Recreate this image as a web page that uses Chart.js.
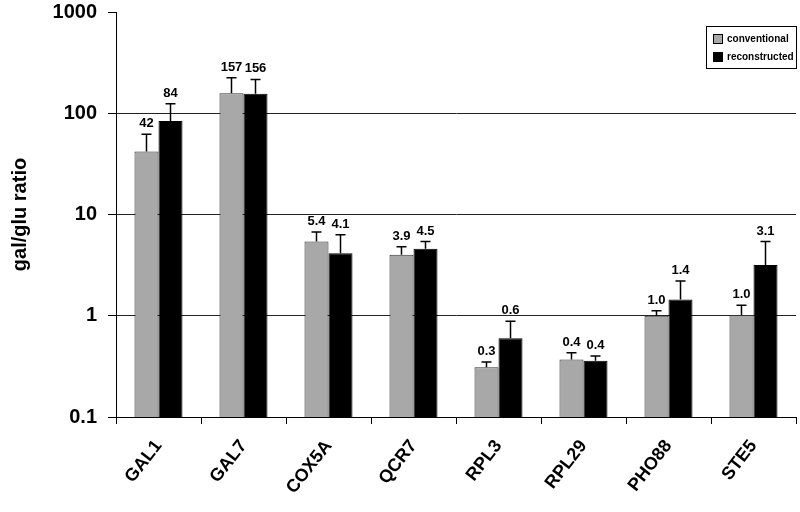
<!DOCTYPE html>
<html>
<head>
<meta charset="utf-8">
<script src="https://cdn.jsdelivr.net/npm/chart.js@4.4.0/dist/chart.umd.min.js"></script>
<style>
    html, body { margin: 0; padding: 0; background: #fff; }
    #wrap { width: 800px; height: 512px; }
</style>
</head>
<body>
<div id="wrap"><canvas id="graf"></canvas></div>
<script>
// Data ratio gal/glu
const genes = ['GAL1', 'GAL7', 'COX5A', 'QCR7', 'RPL3', 'RPL29', 'PHO88', 'STE5'];
const conventional = [42, 158, 5.4, 4.0, 0.31, 0.37, 1.0, 1.02];
const reconstructed = [84, 156, 4.15, 4.6, 0.6, 0.36, 1.45, 3.17];
// horni konec chybove usecky
const conventionalErr = [62, 224, 6.7, 4.8, 0.35, 0.43, 1.12, 1.27];
const reconstructedErr = [124, 216, 6.3, 5.4, 0.88, 0.40, 2.2, 5.4];
// popisky nad sloupci
const conventionalText = ['42', '157', '5.4', '3.9', '0.3', '0.4', '1.0', '1.0'];
const reconstructedText = ['84', '156', '4.1', '4.5', '0.6', '0.4', '1.4', '3.1'];
const yTicks = [0.1, 1, 10, 100, 1000];

const errors = [conventionalErr, reconstructedErr];
const texts = [conventionalText, reconstructedText];
const FONT = 'Arial, "Liberation Sans", sans-serif';

// Chybove usecky a hodnoty nad sloupci
const errorBarPlugin = {
    id: 'errorBars',
    afterDatasetsDraw(chart) {
        const ctx = chart.ctx;
        const y = chart.scales.y;
        chart.data.datasets.forEach((ds, di) => {
            const meta = chart.getDatasetMeta(di);
            meta.data.forEach((bar, i) => {
                const top = y.getPixelForValue(errors[di][i]);
                ctx.save();
                ctx.strokeStyle = '#000';
                ctx.lineWidth = 1.5;
                ctx.beginPath();
                ctx.moveTo(bar.x, bar.y);
                ctx.lineTo(bar.x, top);
                ctx.moveTo(bar.x - 5, top);
                ctx.lineTo(bar.x + 5, top);
                ctx.stroke();
                ctx.fillStyle = '#000';
                ctx.font = 'bold 13px ' + FONT;
                ctx.textAlign = 'center';
                ctx.textBaseline = 'bottom';
                ctx.fillText(texts[di][i], bar.x, top - 4);
                ctx.restore();
            });
        });
    }
};

// Legenda v ramecku
const boxLegendPlugin = {
    id: 'boxLegend',
    afterDraw(chart) {
        const ctx = chart.ctx;
        const x0 = 706, y0 = 26, w = 90, h = 42;
        ctx.save();
        ctx.fillStyle = '#fff';
        ctx.fillRect(x0, y0, w, h);
        ctx.strokeStyle = '#000';
        ctx.lineWidth = 1;
        ctx.strokeRect(x0 + 0.5, y0 + 0.5, w, h);
        ctx.font = 'bold 10px ' + FONT;
        ctx.textBaseline = 'middle';
        chart.data.datasets.forEach((ds, i) => {
            const cy = y0 + 13 + i * 18;
            ctx.fillStyle = ds.backgroundColor;
            ctx.fillRect(x0 + 7, cy - 5, 10, 10);
            ctx.strokeStyle = '#000';
            ctx.strokeRect(x0 + 7.5, cy - 4.5, 9, 9);
            ctx.fillStyle = '#000';
            ctx.fillText(ds.label, x0 + 21, cy);
        });
        ctx.restore();
    }
};

const ctx = document.getElementById('graf').getContext('2d');
new Chart(ctx, {
    type: 'bar',
    data: {
        labels: genes,
        datasets: [{
            label: 'conventional',
            data: conventional,
            backgroundColor: '#a8a8a8',
            borderColor: '#333',
            borderWidth: 1,
            categoryPercentage: 0.565,
            barPercentage: 1.0
        }, {
            label: 'reconstructed',
            data: reconstructed,
            backgroundColor: '#000',
            borderColor: '#000',
            borderWidth: 1,
            categoryPercentage: 0.565,
            barPercentage: 1.0
        }]
    },
    options: {
        responsive: true,
        maintainAspectRatio: false,
        animation: false,
        layout: { padding: { top: 12, right: 4, left: 0, bottom: 0 } },
        plugins: {
            legend: { display: false },
            tooltip: { enabled: false }
        },
        scales: {
            x: {
                grid: {
                    offset: true,
                    color: 'transparent',
                    tickColor: '#000',
                    tickLength: 7,
                    drawOnChartArea: false
                },
                border: { color: '#000', width: 1 },
                ticks: {
                    color: '#000',
                    font: { family: FONT, size: 18, weight: 'bold' },
                    minRotation: 52,
                    maxRotation: 52,
                    padding: 12
                },
                afterFit: function(scale) {
                    scale.height = 95;
                    scale.paddingLeft = 0;
                    scale.paddingRight = 0;
                }
            },
            y: {
                type: 'logarithmic',
                min: 0.1,
                max: 1000,
                afterBuildTicks: function(scale) {
                    scale.ticks = yTicks.map(v => ({ value: v }));
                },
                afterFit: function(scale) {
                    scale.width = 116;
                    scale.paddingTop = 0;
                    scale.paddingBottom = 0;
                },
                grid: {
                    color: ctx => (ctx.tick && ctx.tick.value === 1000) ? 'transparent' : '#222',
                    tickColor: '#000',
                    tickLength: 8,
                    lineWidth: 1
                },
                border: { color: '#000', width: 1 },
                ticks: {
                    color: '#000',
                    padding: 11,
                    font: { family: FONT, size: 20, weight: 'bold' },
                    callback: function(value) { return String(value); }
                },
                title: {
                    display: true,
                    text: 'gal/glu ratio',
                    color: '#000',
                    font: { family: FONT, size: 20, weight: 'bold' },
                    padding: { top: 8, bottom: 0 }
                }
            }
        }
    },
    plugins: [errorBarPlugin, boxLegendPlugin]
});
</script>
</body>
</html>
